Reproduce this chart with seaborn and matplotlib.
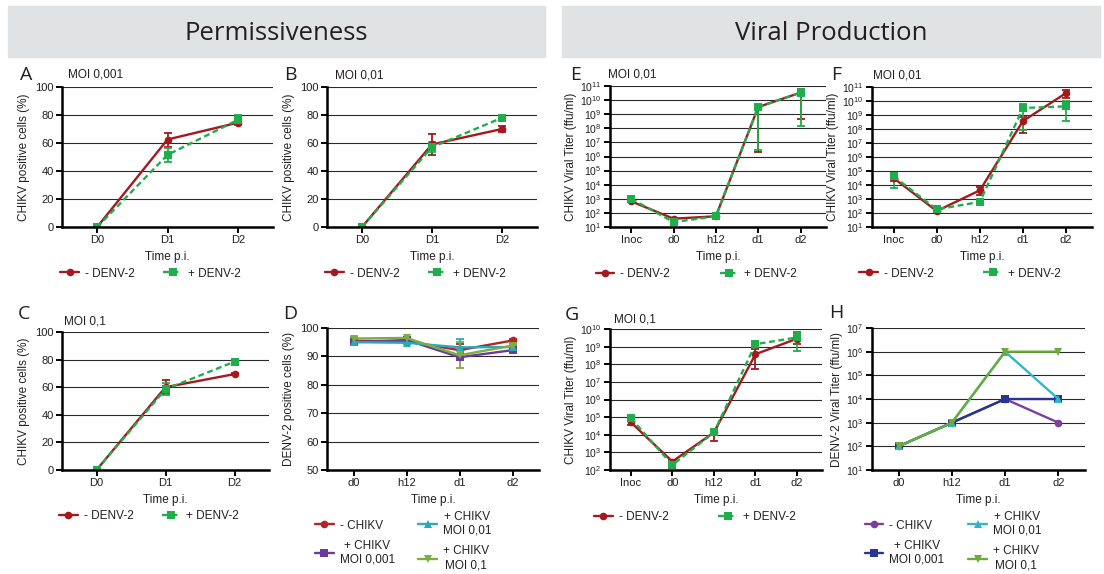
import numpy as np
import pandas as pd
import matplotlib
matplotlib.use('Agg')
import matplotlib.pyplot as plt
from matplotlib.patches import Rectangle
import seaborn as sns

# -------------------
# DATA
# -------------------
days = ['D0', 'D1', 'D2']
times4 = ['d0', 'h12', 'd1', 'd2']
times5 = ['Inoc', 'd0', 'h12', 'd1', 'd2']

denv_groups = ['- DENV-2', '+ DENV-2']
chikv_groups = ['- CHIKV', '+ CHIKV\nMOI 0,001', '+ CHIKV\nMOI 0,01', '+ CHIKV\nMOI 0,1']

# Permissiveness: % CHIKV positive cells (mean, error)
a_minus = [0, 62.5, 74.5]
a_minus_err = [0, 5, 1.5]
a_plus = [0, 51.5, 76.5]
a_plus_err = [0, 5, 3.5]

b_minus = [0, 59, 70]
b_minus_err = [0, 7.5, 2]
b_plus = [0, 57, 78]
b_plus_err = [0, 3.5, 1]

c_minus = [0, 60, 69.5]
c_minus_err = [0, 5, 0.5]
c_plus = [0, 58.5, 78.5]
c_plus_err = [0, 4.5, 0.5]

# % DENV-2 positive cells
d_no_chikv = [95.5, 95.3, 92.2, 95.6]
d_no_chikv_err = [0.5, 0.5, 2.2, 0.5]
d_moi0001 = [95.0, 95.8, 89.7, 92.2]
d_moi0001_err = [0.5, 0.5, 1.0, 0.5]
d_moi001 = [95.0, 94.8, 93.2, 93.3]
d_moi001_err = [0.5, 0.5, 2.8, 0.5]
d_moi01 = [96.3, 96.5, 90.4, 93.8]
d_moi01_err = [0.5, 0.5, 4.6, 0.5]

# Viral production: log10 CHIKV titer (mean, lower, upper)
e_minus = [2.82, 1.59, 1.76, 9.51, 10.53]
e_minus_lo = [2.75, 1.52, 1.70, 6.32, 8.68]
e_minus_hi = [2.90, 1.66, 1.82, 9.75, 10.81]
e_plus = [3.0, 1.35, 1.76, 9.51, 10.53]
e_plus_lo = [2.9, 1.28, 1.70, 6.44, 8.16]
e_plus_hi = [3.1, 1.45, 1.84, 9.75, 10.81]

f_minus = [4.5, 2.14, 3.62, 8.57, 10.57]
f_minus_lo = [4.3, 2.05, 3.31, 7.71, 10.24]
f_minus_hi = [4.7, 2.25, 3.86, 8.86, 10.81]
f_plus = [4.62, 2.26, 2.79, 9.5, 9.62]
f_plus_lo = [3.81, 2.2, 2.7, 7.95, 8.55]
f_plus_hi = [4.86, 2.35, 2.9, 9.81, 10.0]

g_minus = [4.71, 2.48, 4.13, 8.57, 9.45]
g_minus_lo = [4.57, 2.4, 3.67, 7.71, 9.14]
g_minus_hi = [4.85, 2.55, 4.32, 8.86, 9.81]
g_plus = [4.95, 2.29, 4.13, 9.14, 9.52]
g_plus_lo = [4.9, 2.2, 4.05, 9.0, 8.73]
g_plus_hi = [5.0, 2.35, 4.2, 9.3, 9.81]

# log10 DENV-2 titer
h_no_chikv = [2, 3, 4, 3]
h_moi0001 = [2, 3, 4, 4]
h_moi001 = [2, 3, 6, 4]
h_moi01 = [2, 3, 6, 6]

# -------------------
# STYLE
# -------------------
RED = '#a3191f'
GREEN = '#1fae4b'
TXT = '#231f20'
denv_colors = [RED, GREEN]
denv_markers = ['o', 's']
denv_dashes = ['', (2.5, 1.5)]
d_colors = ['#b3242b', '#6b3a9c', '#2aa9b8', '#79ae43']
h_colors = ['#7c3f9e', '#283593', '#2fb7c7', '#6aab3c']
chikv_markers = ['o', 's', '^', 'v']

sns.set_theme(style='ticks')
plt.rcParams['font.family'] = ['Liberation Sans', 'DejaVu Sans']
plt.rcParams['mathtext.default'] = 'regular'
plt.rcParams['text.color'] = TXT
plt.rcParams['axes.labelcolor'] = TXT
plt.rcParams['xtick.color'] = TXT
plt.rcParams['ytick.color'] = TXT

W, H = 1104, 574
fig = plt.figure(figsize=(W / 100, H / 100), dpi=100)


def px_axes(l, t, r, b):
    return fig.add_axes([l / W, 1 - b / H, (r - l) / W, (b - t) / H])


def style_axes(ax, xlabels, ylabel, xmax, ypad=4):
    ax.set_xticks(range(len(xlabels)))
    ax.set_xticklabels(xlabels)
    ax.set_xlim(-0.5, xmax)
    ax.spines[['top', 'right']].set_visible(False)
    for s in ['left', 'bottom']:
        ax.spines[s].set_linewidth(1.8)
        ax.spines[s].set_color('black')
    ax.tick_params(axis='both', direction='out', length=4, width=1.4, labelsize=8, pad=2,
                   color='black')
    ax.yaxis.grid(True, color='#2a2a2a', lw=0.8)
    ax.xaxis.grid(False)
    ax.set_axisbelow(True)
    ax.set_xlabel('Time p.i.', fontsize=8.5, labelpad=4)
    ax.set_ylabel(ylabel, fontsize=8.5, labelpad=ypad)


def log_axis(ax, lo, hi):
    ax.set_yscale('log')
    ax.set_ylim(10.0 ** lo, 10.0 ** hi)
    ks = list(range(lo, hi + 1))
    ax.set_yticks([10.0 ** k for k in ks])
    ax.set_yticklabels([f'$10^{{{k}}}$' for k in ks], fontsize=7.5)
    ax.yaxis.set_minor_locator(matplotlib.ticker.NullLocator())


def draw_lines(ax, groups, series, colors, markers, dashes):
    rows = []
    for g, vals in zip(groups, series):
        for i, v in enumerate(vals):
            rows.append({'t': i, 'v': v, 'grp': g})
    df = pd.DataFrame(rows)
    sns.lineplot(data=df, x='t', y='v', hue='grp', style='grp',
                 hue_order=groups, style_order=groups,
                 palette=dict(zip(groups, colors)),
                 markers=dict(zip(groups, markers)),
                 dashes=dict(zip(groups, dashes)),
                 linewidth=1.7, markersize=5.5, markeredgewidth=0,
                 errorbar=None, ax=ax)


def errbars(ax, vals, yerr, color):
    ax.errorbar(range(len(vals)), vals, yerr=yerr, fmt='none', ecolor=color,
                elinewidth=1.3, capsize=3, capthick=1.3, zorder=1.8)


def place_legend(ax, x, spacing):
    old = ax.get_legend()
    handles = old.legend_handles
    labels = [t.get_text() for t in old.get_texts()]
    old.remove()
    leg = ax.legend(handles, labels, loc='upper center', bbox_to_anchor=(x, -0.29),
                    ncol=2, frameon=False, fontsize=8.5, handlelength=1.6,
                    handletextpad=0.5, columnspacing=spacing, borderaxespad=0,
                    borderpad=0, labelspacing=0.7)
    for t in leg.get_texts():
        t.set_multialignment('center')


def log_pair(ax, minus, minus_lo, minus_hi, plus, plus_lo, plus_hi):
    m = 10.0 ** np.array(minus)
    p = 10.0 ** np.array(plus)
    errbars(ax, m, [m - 10.0 ** np.array(minus_lo), 10.0 ** np.array(minus_hi) - m], RED)
    errbars(ax, p, [p - 10.0 ** np.array(plus_lo), 10.0 ** np.array(plus_hi) - p], GREEN)
    draw_lines(ax, denv_groups, [m, p], denv_colors, denv_markers, denv_dashes)


# -------------------
# HEADERS
# -------------------
for (l, r, title) in [(8, 545, 'Permissiveness'), (562, 1100, 'Viral Production')]:
    fig.add_artist(Rectangle((l / W, 1 - 57 / H), (r - l) / W, 51 / H,
                             transform=fig.transFigure, color='#e1e2e4', zorder=0))
    fig.text((l + r) / 2 / W, 1 - 33 / H, title, ha='center', va='center',
             fontsize=18.5, family=['Open Sans', 'DejaVu Sans'], color=TXT)

# -------------------
# PANELS A-C: % CHIKV positive cells
# -------------------
perm = [
    ('A', (62, 87, 273, 227), a_minus, a_minus_err, a_plus, a_plus_err, 'MOI 0,001', (68, 74), (26, 75)),
    ('B', (327, 87, 537, 227), b_minus, b_minus_err, b_plus, b_plus_err, 'MOI 0,01', (335, 75), (290, 75)),
    ('C', (62, 332, 269, 470), c_minus, c_minus_err, c_plus, c_plus_err, 'MOI 0,1', (64, 322), (24, 314)),
]
for letter, box, mn, mn_err, pl, pl_err, moi, moi_xy, let_xy in perm:
    ax = px_axes(*box)
    errbars(ax, mn, mn_err, RED)
    errbars(ax, pl, pl_err, GREEN)
    draw_lines(ax, denv_groups, [mn, pl], denv_colors, denv_markers, denv_dashes)
    ax.set_ylim(0, 100)
    ax.set_yticks([0, 20, 40, 60, 80, 100])
    style_axes(ax, days, 'CHIKV positive cells (%)', 2.5)
    place_legend(ax, 0.42, 2.4)
    fig.text(moi_xy[0] / W, 1 - moi_xy[1] / H, moi, fontsize=8.5, va='center')
    fig.text(let_xy[0] / W, 1 - let_xy[1] / H, letter, fontsize=14, ha='center', va='center',
             family=['Open Sans', 'DejaVu Sans'])

# -------------------
# PANEL D: % DENV-2 positive cells
# -------------------
ax = px_axes(327, 328, 539, 470)
d_series = [d_no_chikv, d_moi0001, d_moi001, d_moi01]
d_errs = [d_no_chikv_err, d_moi0001_err, d_moi001_err, d_moi01_err]
for vals, err, c in zip(d_series, d_errs, d_colors):
    errbars(ax, vals, err, c)
draw_lines(ax, chikv_groups, d_series, d_colors, chikv_markers, ['', '', '', ''])
ax.set_ylim(50, 100)
ax.set_yticks([50, 60, 70, 80, 90, 100])
style_axes(ax, times4, 'DENV-2 positive cells (%)', 3.5)
place_legend(ax, 0.36, 2.0)
fig.text(290 / W, 1 - 314 / H, 'D', fontsize=14, ha='center', va='center',
         family=['Open Sans', 'DejaVu Sans'])

# -------------------
# PANELS E-G: CHIKV viral titer
# -------------------
prod = [
    ('E', (610, 86, 826, 227), 1, 11, (e_minus, e_minus_lo, e_minus_hi, e_plus, e_plus_lo, e_plus_hi),
     'MOI 0,01', (608, 74), (576, 75)),
    ('F', (872, 87, 1092, 227), 1, 11, (f_minus, f_minus_lo, f_minus_hi, f_plus, f_plus_lo, f_plus_hi),
     'MOI 0,01', (873, 75), (836, 75)),
    ('G', (610, 329, 822, 470), 2, 10, (g_minus, g_minus_lo, g_minus_hi, g_plus, g_plus_lo, g_plus_hi),
     'MOI 0,1', (614, 320), (572, 315)),
]
for letter, box, lo, hi, data, moi, moi_xy, let_xy in prod:
    ax = px_axes(*box)
    log_axis(ax, lo, hi)
    log_pair(ax, *data)
    style_axes(ax, times5, 'CHIKV Viral Titer (ffu/ml)', 4.6, ypad=2)
    log_axis(ax, lo, hi)
    place_legend(ax, 0.40, 4.2)
    fig.text(moi_xy[0] / W, 1 - moi_xy[1] / H, moi, fontsize=8.5, va='center')
    fig.text(let_xy[0] / W, 1 - let_xy[1] / H, letter, fontsize=14, ha='center', va='center',
             family=['Open Sans', 'DejaVu Sans'])

# -------------------
# PANEL H: DENV-2 viral titer
# -------------------
ax = px_axes(872, 328, 1085, 470)
log_axis(ax, 1, 7)
h_series = [10.0 ** np.array(s) for s in [h_no_chikv, h_moi0001, h_moi001, h_moi01]]
draw_lines(ax, chikv_groups, h_series, h_colors, chikv_markers, ['', '', '', ''])
style_axes(ax, times4, 'DENV-2 Viral Titer (ffu/ml)', 3.5, ypad=2)
log_axis(ax, 1, 7)
place_legend(ax, 0.38, 2.0)
fig.text(836 / W, 1 - 313 / H, 'H', fontsize=14, ha='center', va='center',
         family=['Open Sans', 'DejaVu Sans'])

fig.savefig('out.png', dpi=100)
